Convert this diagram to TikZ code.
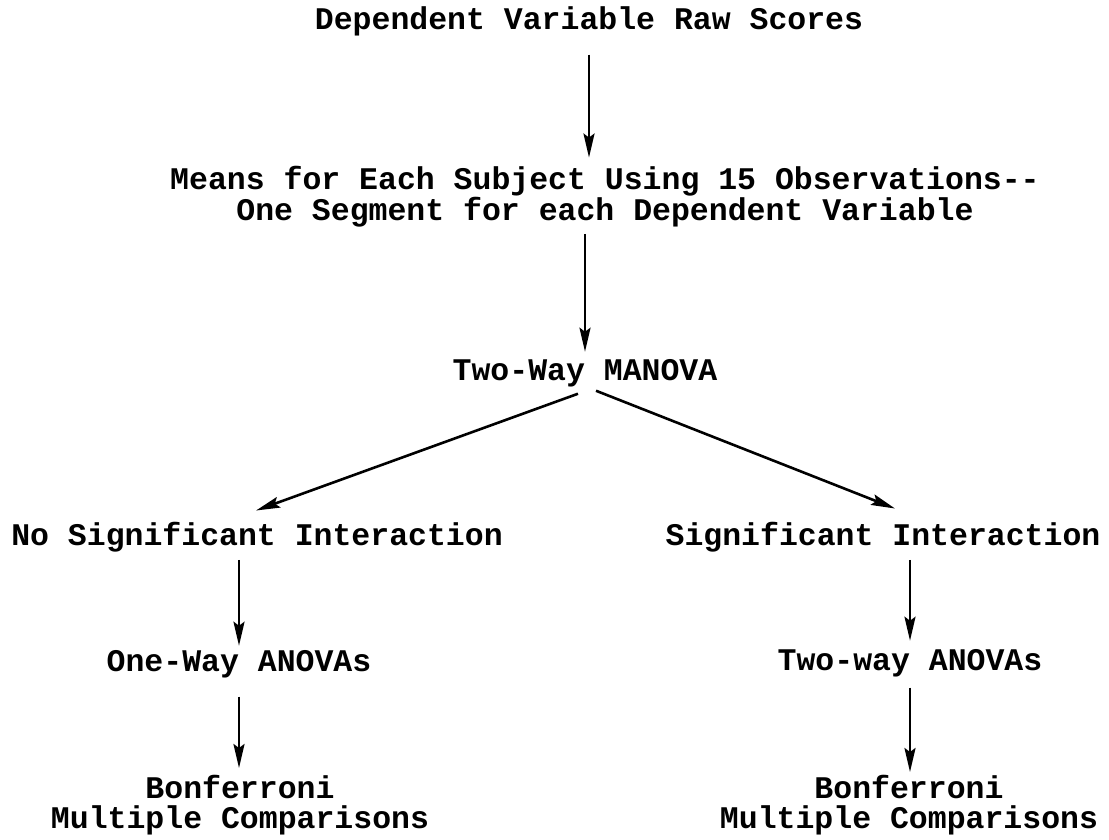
\documentclass[tikz,border=0pt]{standalone}
\usepackage{fontspec}
\usepackage{tikz}
\usetikzlibrary{arrows.meta}
\newfontfamily\typewr{Liberation Mono}

\begin{document}
\begin{tikzpicture}[x=1pt,y=-1pt,
  lbl/.style={anchor=base,inner sep=0pt,align=center,
    font=\typewr\bfseries\fontsize{31.5}{29.5}\selectfont},
  arr/.style={line width=2.6pt,-{Stealth[length=24pt,width=11pt,inset=4pt]}}]
\useasboundingbox (0,0) rectangle (1109,840);
% analysis steps
\node[lbl] (raw) at (589,30) {Dependent Variable Raw Scores};
\node[lbl] (means) at (605,220) {Means for Each Subject Using 15 Observations--\\One Segment for each Dependent Variable};
\node[lbl] (manova) at (585,380) {Two-Way MANOVA};
\node[lbl] (noint) at (257,545) {No Significant Interaction};
\node[lbl] (sigint) at (883,545) {Significant Interaction};
\node[lbl] (oneway) at (239,671) {One-Way ANOVAs};
\node[lbl] (twoway) at (910,670) {Two-way ANOVAs};
\node[lbl] (bonl) at (240,828) {Bonferroni\\Multiple Comparisons};
\node[lbl] (bonr) at (909,828) {Bonferroni\\Multiple Comparisons};
% arrows
\draw[arr,shorten <=18pt,shorten >=8pt] (raw.south) -- (raw.south |- means.north);
\draw[arr,shorten <=7pt,shorten >=7pt] (means.south -| manova) -- (manova.north);
\draw[arr] ([xshift=-7pt,yshift=-7pt]manova.south) -- ([xshift=-1pt,yshift=11pt]noint.north);
\draw[arr] ([xshift=11pt,yshift=-4pt]manova.south) -- ([xshift=12pt,yshift=13pt]sigint.north);
\draw[arr,shorten <=8pt,shorten >=4pt] (noint.south -| oneway) -- (oneway.north);
\draw[arr,shorten <=19pt,shorten >=7pt] (oneway.south) -- (oneway.south |- bonl.north);
\draw[arr,shorten <=8pt,shorten >=8pt] (sigint.south -| twoway) -- (twoway.north);
\draw[arr,shorten <=11pt,shorten >=3pt] (twoway.south) -- (twoway.south |- bonr.north);
\end{tikzpicture}
\end{document}
